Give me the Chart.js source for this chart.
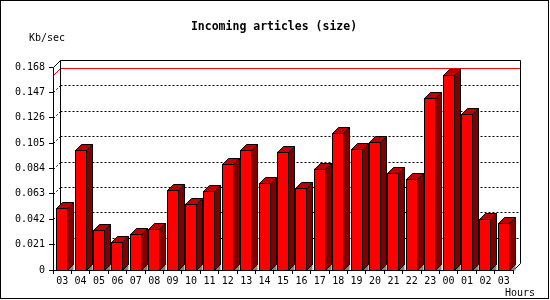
<!DOCTYPE html>
<html><head><meta charset="utf-8">
<script src="https://cdn.jsdelivr.net/npm/chart.js@4/dist/chart.umd.min.js"></script>
<style>html,body{margin:0;padding:0;background:#fff}canvas{display:block}</style>
</head><body>
<canvas id="c" width="550" height="300"></canvas>
<script>
// ---- data ----
const hours = ['03','04','05','06','07','08','09','10','11','12','13','14','15','16','17','18','19','20','21','22','23','00','01','02','03'];
const sizeKbSec = [0.051,0.099,0.033,0.023,0.030,0.034,0.066,0.055,0.065,0.088,0.099,0.072,0.098,0.068,0.084,0.113,0.100,0.106,0.080,0.075,0.142,0.161,0.129,0.042,0.039];
const yTicks = [0,0.021,0.042,0.063,0.084,0.105,0.126,0.147,0.168];
const chartTitle = 'Incoming articles (size)';
const yUnit = 'Kb/sec';
const xUnit = 'Hours';

const FONT = '"DejaVu Sans Mono", "Liberation Mono", monospace';
const WD = 7;   // wall depth
const BD = 6;   // bar depth

const plugin3d = {
  id: 'bars3d',
  beforeDatasetsDraw(chart) {
    const {ctx, chartArea: a, scales: {y}} = chart;
    const L = Math.round(a.left), R = Math.round(a.right), T = Math.round(a.top), B = Math.round(a.bottom);
    ctx.save();
    ctx.lineWidth = 1;
    ctx.strokeStyle = '#000';
    ctx.setLineDash([2, 2]);
    yTicks.forEach(v => {
      if (v === yTicks[0] || v === yTicks[yTicks.length - 1]) return;
      const yf = Math.round(y.getPixelForValue(v));
      const yb = yf - WD;
      ctx.beginPath();
      ctx.moveTo(L + WD + 0.5, yb + 0.5);
      ctx.lineTo(R + WD + 0.5, yb + 0.5);
      ctx.stroke();
      ctx.beginPath();
      ctx.moveTo(L + 0.5, yf + 0.5);
      ctx.lineTo(L + WD + 0.5, yb + 0.5);
      ctx.stroke();
    });
    ctx.setLineDash([]);
    const maxV = Math.max(...sizeKbSec);
    const ym = Math.round(y.getPixelForValue(maxV));
    ctx.strokeStyle = '#ff0000';
    ctx.beginPath();
    ctx.moveTo(L + 0.5, ym + 0.5);
    ctx.lineTo(L + WD + 0.5, ym - WD + 0.5);
    ctx.lineTo(R + WD + 0.5, ym - WD + 0.5);
    ctx.stroke();
    ctx.strokeStyle = '#000';
    ctx.beginPath();
    ctx.moveTo(L + WD + 0.5, B - WD + 0.5);
    ctx.lineTo(L + WD + 0.5, T - WD + 0.5);
    ctx.lineTo(R + WD + 0.5, T - WD + 0.5);
    ctx.lineTo(R + WD + 0.5, B - WD + 0.5);
    ctx.lineTo(R + 0.5, B + 0.5);
    ctx.stroke();
    ctx.beginPath();
    ctx.moveTo(L + 0.5, T + 0.5);
    ctx.lineTo(L + WD + 0.5, T - WD + 0.5);
    ctx.stroke();
    ctx.restore();
  },
  afterDatasetsDraw(chart) {
    const {ctx, chartArea: a} = chart;
    const L = Math.round(a.left), R = Math.round(a.right), T = Math.round(a.top), B = Math.round(a.bottom);
    const meta = chart.getDatasetMeta(0);
    ctx.save();
    ctx.lineWidth = 1;
    ctx.strokeStyle = '#000';
    meta.data.forEach(el => {
      const p = el.getProps(['x', 'y', 'base', 'width'], true);
      const x0 = Math.floor(p.x - p.width / 2);
      const x1 = x0 + Math.round(p.width);
      const t = Math.round(p.y);
      const b = B;
      const d = BD;
      ctx.fillStyle = '#ff0000';
      ctx.fillRect(x0, t, x1 - x0 + 1, b - t + 1);
      ctx.fillStyle = '#c00000';
      ctx.beginPath();
      ctx.moveTo(x0 + .5, t + .5); ctx.lineTo(x0 + d + .5, t - d + .5);
      ctx.lineTo(x1 + d + .5, t - d + .5); ctx.lineTo(x1 + .5, t + .5); ctx.closePath();
      ctx.fill(); ctx.stroke();
      ctx.fillStyle = '#800000';
      ctx.beginPath();
      ctx.moveTo(x1 + .5, t + .5); ctx.lineTo(x1 + d + .5, t - d + .5);
      ctx.lineTo(x1 + d + .5, b - d + .5); ctx.lineTo(x1 + .5, b + .5); ctx.closePath();
      ctx.fill(); ctx.stroke();
      ctx.fillStyle = '#808080';
      ctx.beginPath();
      ctx.moveTo(x1 + .5, b + .5); ctx.lineTo(x1 + d + .5, b - d + .5);
      ctx.lineTo(x1 + d + .5, b + .5); ctx.closePath();
      ctx.fill();
      ctx.beginPath();
      ctx.moveTo(x1 + .5, b + .5); ctx.lineTo(x1 + d + .5, b - d + .5); ctx.stroke();
      ctx.strokeRect(x0 + .5, t + .5, x1 - x0, b - t);
    });
    ctx.beginPath();
    ctx.moveTo(L + .5, T + .5);
    ctx.lineTo(L + .5, B + .5);
    ctx.lineTo(R + .5, B + .5);
    ctx.stroke();
    ctx.restore();
  },
  afterDraw(chart) {
    const ctx = chart.ctx;
    ctx.save();
    ctx.fillStyle = '#000';
    ctx.textBaseline = 'alphabetic';
    ctx.font = 'bold 11.5px ' + FONT;
    ctx.textAlign = 'center';
    ctx.fillText(chartTitle, 274, 30);
    ctx.font = '10px ' + FONT;
    ctx.textAlign = 'left';
    ctx.fillText(yUnit, 29, 41);
    ctx.fillText(xUnit, 505, 296);
    ctx.strokeStyle = '#000';
    ctx.lineWidth = 1;
    ctx.strokeRect(0.5, 0.5, 548, 298);
    ctx.restore();
  }
};

new Chart(document.getElementById('c'), {
  type: 'bar',
  data: {
    labels: hours,
    datasets: [{ data: sizeKbSec, backgroundColor: '#ff0000', borderWidth: 0, barPercentage: 0.6, categoryPercentage: 1.0 }]
  },
  options: {
    responsive: false, animation: false, devicePixelRatio: 1,
    layout: { padding: { top: 67, right: 37, left: 0, bottom: 0 } },
    plugins: { legend: { display: false }, tooltip: { enabled: false }, title: { display: false } },
    scales: {
      x: {
        offset: true,
        grid: { offset: true, drawOnChartArea: false, drawTicks: true, tickLength: 4, color: '#000', lineWidth: 1 },
        border: { display: false },
        ticks: { font: { family: FONT, size: 10 }, color: '#000', padding: 1, maxRotation: 0, autoSkip: false },
        afterFit(s) { s.height = 30; }
      },
      y: {
        min: yTicks[0], max: yTicks[yTicks.length - 1],
        grid: { drawOnChartArea: false, drawTicks: true, tickLength: 4, color: '#000', lineWidth: 1 },
        border: { display: false },
        ticks: { font: { family: FONT, size: 10 }, color: '#000', padding: 4,
          callback: (v) => v === 0 ? '0' : v.toFixed(3) },
        afterBuildTicks(s) { s.ticks = yTicks.map(v => ({ value: v })); },
        afterFit(s) { s.width = 53; }
      }
    }
  },
  plugins: [plugin3d]
});
</script>
</body></html>
